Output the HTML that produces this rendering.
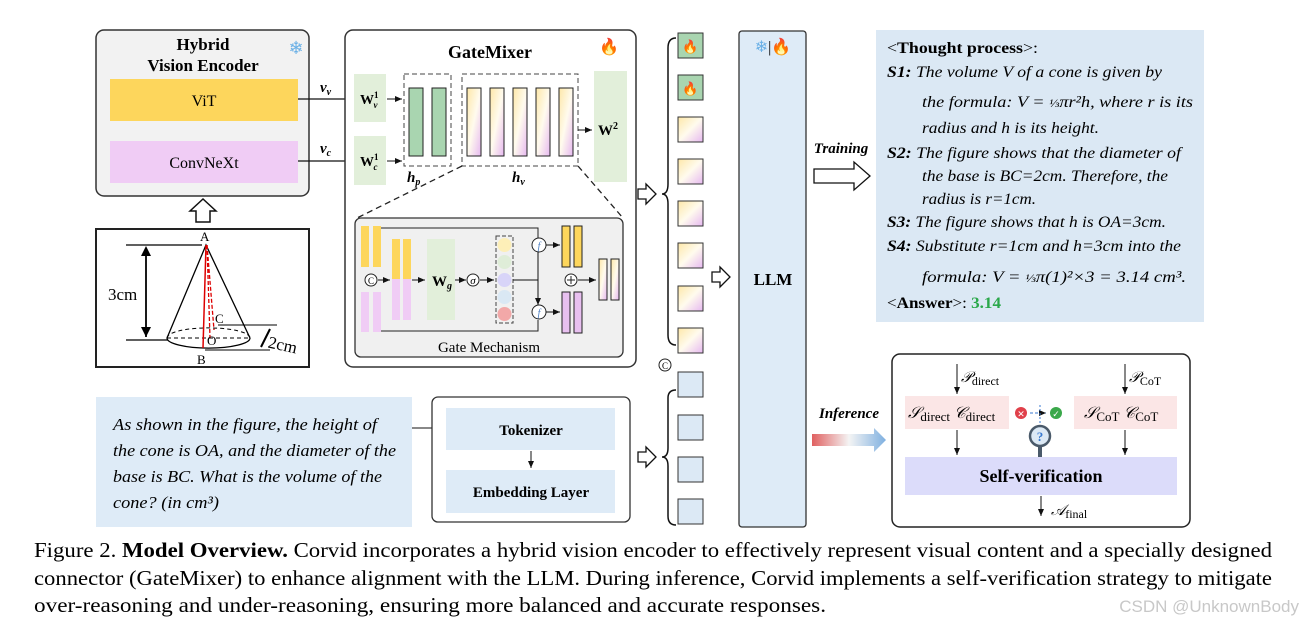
<!DOCTYPE html>
<html><head><meta charset="utf-8"><style>
body{margin:0;background:#fff}
svg text{font-family:"Liberation Serif",serif}
</style></head><body>
<svg width="1305" height="627" viewBox="0 0 1305 627" xmlns="http://www.w3.org/2000/svg">
<defs>
<linearGradient id="yp" x1="0" y1="0" x2="1" y2="1"><stop offset="0" stop-color="#fde7a8"/><stop offset="0.5" stop-color="#fffbee"/><stop offset="1" stop-color="#e6b8f0"/></linearGradient>
<linearGradient id="inf" x1="0" x2="1"><stop offset="0" stop-color="#e06060"/><stop offset="0.5" stop-color="#f4f4f4"/><stop offset="1" stop-color="#7fb0e0"/></linearGradient>
<marker id="ar" markerWidth="8" markerHeight="8" refX="7" refY="4" orient="auto" markerUnits="userSpaceOnUse"><path d="M0,1 L7,4 L0,7z" fill="#111"/></marker>
</defs>

<rect x="96" y="30" width="213" height="166" rx="8" fill="#f2f2f2" stroke="#333" stroke-width="1.5"/>
<text x="203" y="50" font-size="17" font-weight="bold" text-anchor="middle">Hybrid</text>
<text x="203" y="71" font-size="17" font-weight="bold" text-anchor="middle">Vision Encoder</text>
<text x="296" y="54" font-size="18" text-anchor="middle" fill="#6ab0e6">❄</text>
<rect x="110" y="79" width="188" height="42" fill="#fdd65c"/>
<text x="204" y="106" font-size="16" text-anchor="middle">ViT</text>
<rect x="110" y="141" width="188" height="42" fill="#f0ccf5"/>
<text x="204" y="168" font-size="16" text-anchor="middle">ConvNeXt</text>
<path d="M196,222 V211 H190 L203,199 L216,211 H210 V222z" fill="#fff" stroke="#111" stroke-width="1.5"/>

<rect x="96" y="229" width="213" height="138" fill="#fff" stroke="#222" stroke-width="2"/>
<line x1="126" y1="245" x2="202" y2="245" stroke="#000" stroke-width="1.3"/>
<line x1="126" y1="340" x2="168" y2="340" stroke="#000" stroke-width="1.3"/>
<line x1="146" y1="248" x2="146" y2="337" stroke="#000" stroke-width="1.8"/>
<path d="M141,256 L146,246 L151,256z M141,327 L146,337 L151,327z"/>
<text x="108" y="300" font-size="17">3cm</text>
<path d="M167,338 L206,245 L250,338" fill="none" stroke="#000" stroke-width="1.3"/>
<path d="M167,338 A41,10 0 0 0 250,338" fill="none" stroke="#000" stroke-width="1.3"/>
<path d="M167,338 A41,10 0 0 1 250,338" fill="none" stroke="#000" stroke-dasharray="4,3"/>
<line x1="167" y1="338" x2="250" y2="338" stroke="#000" stroke-dasharray="4,3"/>
<line x1="206" y1="245" x2="203" y2="348" stroke="#d00" stroke-width="1.5"/>
<line x1="207" y1="245" x2="214" y2="330" stroke="#d00" stroke-width="1.3" stroke-dasharray="4,2"/>
<line x1="207" y1="245" x2="210" y2="338" stroke="#d00" stroke-width="1.3" stroke-dasharray="4,2"/>
<line x1="218" y1="325" x2="277" y2="325" stroke="#000"/>
<line x1="205" y1="350" x2="270" y2="350" stroke="#000"/>
<line x1="270" y1="329" x2="261" y2="347" stroke="#000" stroke-width="2"/>
<text x="200" y="241" font-size="13">A</text>
<text x="215" y="323" font-size="13">C</text>
<text x="207" y="345" font-size="13">O</text>
<text x="197" y="364" font-size="13">B</text>
<text x="268" y="350" font-size="17" transform="rotate(12 280 345)">2cm</text>

<line x1="298" y1="99" x2="352" y2="99" stroke="#111" stroke-width="1.3" marker-end="url(#ar)"/>
<line x1="298" y1="161" x2="352" y2="161" stroke="#111" stroke-width="1.3" marker-end="url(#ar)"/>
<text x="320" y="92" font-size="15" font-weight="bold" font-style="italic">v<tspan font-size="10" dy="3">v</tspan></text>
<text x="320" y="153" font-size="15" font-weight="bold" font-style="italic">v<tspan font-size="10" dy="3">c</tspan></text>

<rect x="345" y="30" width="291" height="337" rx="8" fill="#fff" stroke="#333" stroke-width="1.5"/>
<text x="490" y="58" font-size="18" font-weight="bold" text-anchor="middle">GateMixer</text>
<text x="609" y="52" font-size="16" text-anchor="middle">🔥</text>
<rect x="354" y="74" width="32" height="48" fill="#e2efda"/>
<text x="360" y="104" font-size="14" font-weight="bold">W<tspan font-size="9" dy="-6">1</tspan><tspan font-size="9" dx="-5" dy="10" font-style="italic">v</tspan></text>
<rect x="354" y="136" width="32" height="49" fill="#e2efda"/>
<text x="360" y="166" font-size="14" font-weight="bold">W<tspan font-size="9" dy="-6">1</tspan><tspan font-size="9" dx="-5" dy="10" font-style="italic">c</tspan></text>
<line x1="387" y1="99" x2="402" y2="99" stroke="#111" marker-end="url(#ar)"/>
<line x1="387" y1="161" x2="402" y2="161" stroke="#111" marker-end="url(#ar)"/>
<rect x="404" y="74" width="47" height="92" fill="none" stroke="#444" stroke-dasharray="5,3"/>
<rect x="409" y="88" width="14" height="68" fill="#a9d5b0" stroke="#222"/>
<rect x="432" y="88" width="14" height="68" fill="#a9d5b0" stroke="#222"/>
<rect x="462" y="74" width="116" height="92" fill="none" stroke="#444" stroke-dasharray="5,3"/>
<rect x="467" y="88" width="14" height="68" fill="url(#yp)" stroke="#222"/>
<rect x="490" y="88" width="14" height="68" fill="url(#yp)" stroke="#222"/>
<rect x="513" y="88" width="14" height="68" fill="url(#yp)" stroke="#222"/>
<rect x="536" y="88" width="14" height="68" fill="url(#yp)" stroke="#222"/>
<rect x="559" y="88" width="14" height="68" fill="url(#yp)" stroke="#222"/>
<rect x="594" y="71" width="33" height="111" fill="#e2efda"/>
<text x="598" y="135" font-size="15" font-weight="bold">W<tspan font-size="10" dy="-6">2</tspan></text>
<line x1="578" y1="130" x2="592" y2="130" stroke="#111" marker-end="url(#ar)"/>
<text x="407" y="182" font-size="15" font-weight="bold" font-style="italic">h<tspan font-size="10" dy="3">p</tspan></text>
<text x="512" y="182" font-size="15" font-weight="bold" font-style="italic">h<tspan font-size="10" dy="3">v</tspan></text>
<line x1="462" y1="166" x2="357" y2="218" stroke="#222" stroke-dasharray="6,4" stroke-width="1.3"/>
<line x1="578" y1="166" x2="623" y2="218" stroke="#222" stroke-dasharray="6,4" stroke-width="1.3"/>

<rect x="355" y="218" width="268" height="139" rx="6" fill="#f0f0f0" stroke="#333" stroke-width="1.3"/>
<rect x="361" y="226" width="8" height="41" fill="#fdd65c"/><rect x="373" y="226" width="8" height="41" fill="#fdd65c"/>
<rect x="361" y="292" width="8" height="40" fill="#f0ccf5"/><rect x="373" y="292" width="8" height="40" fill="#f0ccf5"/>
<path d="M381,228 H538 V238 M381,331 H538 V320" fill="none" stroke="#222"/>
<circle cx="371" cy="280" r="6" fill="#fff" stroke="#222"/><text x="371" y="284" font-size="9" text-anchor="middle">C</text>
<line x1="378" y1="280" x2="390" y2="280" stroke="#111" marker-end="url(#ar)"/>
<rect x="392" y="239" width="8" height="40" fill="#fdd65c"/><rect x="403" y="239" width="8" height="40" fill="#fdd65c"/>
<rect x="392" y="279" width="8" height="41" fill="#f0ccf5"/><rect x="403" y="279" width="8" height="41" fill="#f0ccf5"/>
<line x1="412" y1="280" x2="425" y2="280" stroke="#111" marker-end="url(#ar)"/>
<rect x="427" y="239" width="28" height="81" fill="#e2efda"/>
<text x="432" y="286" font-size="15" font-weight="bold">W<tspan font-size="10" dy="3" font-style="italic">g</tspan></text>
<line x1="455" y1="280" x2="466" y2="280" stroke="#111" marker-end="url(#ar)"/>
<circle cx="473" cy="280" r="6" fill="#fff" stroke="#222"/><text x="473" y="284" font-size="11" text-anchor="middle" font-style="italic">σ</text>
<line x1="480" y1="280" x2="494" y2="280" stroke="#111" marker-end="url(#ar)"/>
<rect x="496" y="236" width="17" height="87" fill="none" stroke="#444" stroke-dasharray="4,2"/>
<circle cx="504.5" cy="245" r="7" fill="#fdefb8"/><circle cx="504.5" cy="262" r="7" fill="#dfedd8"/>
<circle cx="504.5" cy="280" r="7" fill="#d8d4f8"/><circle cx="504.5" cy="297" r="7" fill="#dae8f4"/>
<circle cx="504.5" cy="314" r="7" fill="#f2a8a8"/>
<path d="M513,280 H538 M538,280 V252 M538,280 V305" stroke="#111" fill="none" marker-end="url(#ar)"/>
<circle cx="539" cy="245" r="7" fill="#fff" stroke="#222"/><text x="539" y="249" font-size="10" text-anchor="middle" fill="#4a7cc0" font-style="italic">f</text>
<circle cx="539" cy="312" r="7" fill="#fff" stroke="#222"/><text x="539" y="316" font-size="10" text-anchor="middle" fill="#4a7cc0" font-style="italic">f</text>
<line x1="546" y1="245" x2="560" y2="245" stroke="#111" marker-end="url(#ar)"/>
<line x1="546" y1="312" x2="560" y2="312" stroke="#111" marker-end="url(#ar)"/>
<rect x="562" y="226" width="8" height="41" fill="#fdd65c" stroke="#222"/><rect x="574" y="226" width="8" height="41" fill="#fdd65c" stroke="#222"/>
<rect x="562" y="292" width="8" height="41" fill="#e8c0f0" stroke="#222"/><rect x="574" y="292" width="8" height="41" fill="#e8c0f0" stroke="#222"/>
<circle cx="571" cy="280" r="6" fill="#fff" stroke="#222"/><path d="M567,280 H575 M571,276 V284" stroke="#222"/>
<line x1="578" y1="280" x2="596" y2="280" stroke="#111" marker-end="url(#ar)"/>
<rect x="599" y="259" width="8" height="41" fill="url(#yp)" stroke="#222"/><rect x="611" y="259" width="8" height="41" fill="url(#yp)" stroke="#222"/>
<text x="489" y="352" font-size="15" text-anchor="middle">Gate Mechanism</text>

<path d="M638,189 H646 V184 L656,194 L646,204 V199 H638z" fill="#fff" stroke="#111" stroke-width="1.3"/>
<path d="M676,38 Q668,38 668,48 V184 Q668,194 662,194 Q668,194 668,204 V335 Q668,345 676,345" fill="none" stroke="#111" stroke-width="1.5"/>
<rect x="678" y="33" width="25" height="25" fill="#a9d5b0" stroke="#333"/><text x="690.5" y="51" font-size="13" text-anchor="middle">🔥</text>
<rect x="678" y="75" width="25" height="25" fill="#a9d5b0" stroke="#333"/><text x="690.5" y="93" font-size="13" text-anchor="middle">🔥</text>
<rect x="678" y="117" width="25" height="25" fill="url(#yp)" stroke="#333"/>
<rect x="678" y="159" width="25" height="25" fill="url(#yp)" stroke="#333"/>
<rect x="678" y="201" width="25" height="25" fill="url(#yp)" stroke="#333"/>
<rect x="678" y="243" width="25" height="25" fill="url(#yp)" stroke="#333"/>
<rect x="678" y="286" width="25" height="25" fill="url(#yp)" stroke="#333"/>
<rect x="678" y="328" width="25" height="25" fill="url(#yp)" stroke="#333"/>
<circle cx="665" cy="365" r="6" fill="#fff" stroke="#222"/><text x="665" y="369" font-size="9" text-anchor="middle">C</text>
<rect x="678" y="372" width="25" height="25" fill="#dce9f5" stroke="#333"/>
<rect x="678" y="415" width="25" height="25" fill="#dce9f5" stroke="#333"/>
<rect x="678" y="457" width="25" height="25" fill="#dce9f5" stroke="#333"/>
<rect x="678" y="499" width="25" height="25" fill="#dce9f5" stroke="#333"/>
<path d="M676,390 Q668,390 668,398 V448 Q668,457 662,457 Q668,457 668,466 V516 Q668,525 676,525" fill="none" stroke="#111" stroke-width="1.5"/>
<path d="M638,452 H646 V447 L656,457 L646,467 V462 H638z" fill="#fff" stroke="#111" stroke-width="1.3"/>
<path d="M712,272 H720 V267 L730,277 L720,287 V282 H712z" fill="#fff" stroke="#111" stroke-width="1.3"/>

<rect x="739" y="31" width="67" height="496" rx="3" fill="#deebf7" stroke="#333" stroke-width="1.3"/>
<text x="773" y="52" font-size="16" text-anchor="middle"><tspan fill="#6ab0e6">❄</tspan>|🔥</text>
<text x="773" y="285" font-size="17" font-weight="bold" text-anchor="middle">LLM</text>

<text x="841" y="153" font-size="15" font-weight="bold" font-style="italic" text-anchor="middle">Training</text>
<path d="M814,169 H854 V162 L870,176 L854,190 V183 H814z" fill="#fff" stroke="#111" stroke-width="1.3"/>
<rect x="876" y="30" width="328" height="292" fill="#dbe8f4"/>
<g font-size="16" font-style="italic">
<text x="887" y="53" font-style="normal" textLength="151" lengthAdjust="spacingAndGlyphs">&lt;<tspan font-weight="bold">Thought process</tspan>&gt;:</text>
<text x="887" y="77" textLength="275" lengthAdjust="spacingAndGlyphs"><tspan font-weight="bold">S1:</tspan>  The volume V of a cone is given by</text>
<text x="922" y="107" textLength="271" lengthAdjust="spacingAndGlyphs">the formula: V = <tspan font-size="12">⅓</tspan>πr²h, where r is its</text>
<text x="922" y="133" textLength="177" lengthAdjust="spacingAndGlyphs">radius and h is its height.</text>
<text x="887" y="158" textLength="294" lengthAdjust="spacingAndGlyphs"><tspan font-weight="bold">S2:</tspan>  The figure shows that the diameter of</text>
<text x="922" y="181" textLength="246" lengthAdjust="spacingAndGlyphs">the base is BC=2cm. Therefore, the</text>
<text x="922" y="204" textLength="114" lengthAdjust="spacingAndGlyphs">radius is r=1cm.</text>
<text x="887" y="227" textLength="279" lengthAdjust="spacingAndGlyphs"><tspan font-weight="bold">S3:</tspan> The figure shows that h is OA=3cm.</text>
<text x="887" y="251" textLength="294" lengthAdjust="spacingAndGlyphs"><tspan font-weight="bold">S4:</tspan>  Substitute r=1cm and h=3cm into the</text>
<text x="922" y="282" textLength="264" lengthAdjust="spacingAndGlyphs">formula: V = <tspan font-size="12">⅓</tspan>π(1)²×3 = 3.14 cm³.</text>
<text x="887" y="308" font-style="normal" textLength="114" lengthAdjust="spacingAndGlyphs">&lt;<tspan font-weight="bold">Answer</tspan>&gt;: <tspan font-weight="bold" fill="#2aa84a">3.14</tspan></text>
</g>

<text x="849" y="418" font-size="15" font-weight="bold" font-style="italic" text-anchor="middle">Inference</text>
<path d="M812,434 H874 V428 L886,440 L874,452 V446 H812z" fill="url(#inf)"/>
<rect x="892" y="354" width="298" height="173" rx="8" fill="#fff" stroke="#222" stroke-width="1.5"/>
<line x1="957" y1="364" x2="957" y2="394" stroke="#111" marker-end="url(#ar)"/>
<line x1="1125" y1="364" x2="1125" y2="394" stroke="#111" marker-end="url(#ar)"/>
<text x="961" y="382" font-size="15" font-style="italic">𝒫<tspan font-style="normal" font-size="12" dy="3">direct</tspan></text>
<text x="1129" y="382" font-size="15" font-style="italic">𝒫<tspan font-style="normal" font-size="12" dy="3">CoT</tspan></text>
<rect x="905" y="396" width="104" height="33" fill="#fbe6e6"/>
<rect x="1074" y="396" width="103" height="33" fill="#fbe6e6"/>
<text x="908" y="418" font-size="16" font-style="italic">𝒮<tspan font-style="normal" font-size="13" dy="3">direct</tspan><tspan dy="-3"> 𝒞</tspan><tspan font-style="normal" font-size="13" dy="3">direct</tspan></text>
<text x="1084" y="418" font-size="16" font-style="italic">𝒮<tspan font-style="normal" font-size="13" dy="3">CoT</tspan><tspan dy="-3">  𝒞</tspan><tspan font-style="normal" font-size="13" dy="3">CoT</tspan></text>
<circle cx="1021" cy="413" r="6" fill="#e0404a"/><text x="1021" y="417" font-size="9" fill="#fff" text-anchor="middle">✕</text>
<line x1="1030" y1="413" x2="1046" y2="413" stroke="#3a7ad0" stroke-dasharray="3,2" marker-end="url(#ar)"/>
<circle cx="1056" cy="413" r="6" fill="#3aa84a"/><text x="1056" y="417" font-size="9" fill="#fff" text-anchor="middle">✓</text>
<line x1="1040" y1="405" x2="1040" y2="425" stroke="#3a7ad0" stroke-dasharray="2,2"/>
<circle cx="1040" cy="436" r="10" fill="#dce9f5" stroke="#4a5a6a" stroke-width="2.5"/>
<text x="1040" y="441" font-size="13" font-weight="bold" fill="#3a7ad0" text-anchor="middle">?</text>
<rect x="1038" y="446" width="4" height="12" fill="#4a5a6a"/>
<line x1="957" y1="430" x2="957" y2="455" stroke="#111" marker-end="url(#ar)"/>
<line x1="1125" y1="430" x2="1125" y2="455" stroke="#111" marker-end="url(#ar)"/>
<rect x="905" y="457" width="272" height="38" fill="#dcdcfa"/>
<text x="1041" y="482" font-size="18" font-weight="bold" text-anchor="middle">Self-verification</text>
<line x1="1041" y1="496" x2="1041" y2="516" stroke="#111" marker-end="url(#ar)"/>
<text x="1051" y="515" font-size="15" font-style="italic">𝒜<tspan font-style="normal" font-size="12" dy="3">final</tspan></text>

<rect x="96" y="397" width="316" height="130" fill="#deebf7"/>
<g font-size="17" font-style="italic">
<text x="113" y="430" textLength="264" lengthAdjust="spacingAndGlyphs">As shown in the figure, the height of</text>
<text x="113" y="456" textLength="283" lengthAdjust="spacingAndGlyphs">the cone is OA, and the diameter of the</text>
<text x="113" y="482" textLength="269" lengthAdjust="spacingAndGlyphs">base is BC. What is the volume of the</text>
<text x="113" y="508" textLength="106" lengthAdjust="spacingAndGlyphs">cone? (in cm³)</text>
</g>
<line x1="412" y1="428" x2="441" y2="428" stroke="#111" marker-end="url(#ar)"/>
<rect x="432" y="397" width="198" height="125" rx="6" fill="#fff" stroke="#333" stroke-width="1.3"/>
<rect x="446" y="408" width="169" height="42" fill="#deebf7"/>
<text x="531" y="435" font-size="15" font-weight="bold" text-anchor="middle">Tokenizer</text>
<line x1="531" y1="451" x2="531" y2="468" stroke="#111" marker-end="url(#ar)"/>
<rect x="446" y="470" width="169" height="43" fill="#deebf7"/>
<text x="531" y="497" font-size="15" font-weight="bold" text-anchor="middle">Embedding Layer</text>

<g font-size="21">
<text x="34" y="557" textLength="1238" lengthAdjust="spacingAndGlyphs">Figure 2. <tspan font-weight="bold">Model Overview.</tspan> Corvid incorporates a hybrid vision encoder to effectively represent visual content and a specially designed</text>
<text x="34" y="585" textLength="1238" lengthAdjust="spacingAndGlyphs">connector (GateMixer) to enhance alignment with the LLM. During inference, Corvid implements a self-verification strategy to mitigate</text>
<text x="34" y="612" textLength="792" lengthAdjust="spacingAndGlyphs">over-reasoning and under-reasoning, ensuring more balanced and accurate responses.</text>
</g>
<text x="1299" y="612" font-size="17" fill="#c8c8c8" text-anchor="end" style="font-family:'Liberation Sans',sans-serif">CSDN @UnknownBody</text>
</svg>
</body></html>
